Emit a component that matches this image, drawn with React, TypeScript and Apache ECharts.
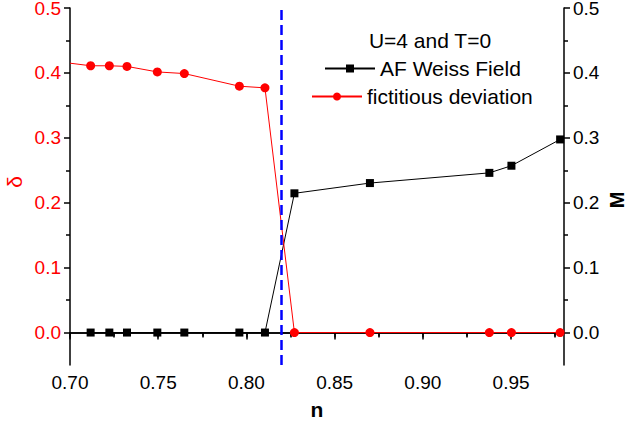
import React, { useEffect, useRef } from "react";
import * as echarts from "echarts";

// ---- data ----
const deltaN = [0.7, 0.7117, 0.7223, 0.7323, 0.7495, 0.7648, 0.796, 0.8105, 0.8272, 0.87, 0.9377, 0.9502, 0.9778];
const deltaValues = [0.415, 0.411, 0.411, 0.41, 0.4015, 0.399, 0.3795, 0.377, 0, 0, 0, 0, 0];
const weissN = [0.7117, 0.7223, 0.7323, 0.7495, 0.7648, 0.796, 0.8105, 0.8272, 0.87, 0.9377, 0.9502, 0.9778];
const weissValues = [0, 0, 0, 0, 0, 0, 0, 0.2145, 0.2303, 0.246, 0.257, 0.2975];
const transitionN = 0.821;

const nMajorTicks = [0.7, 0.75, 0.8, 0.85, 0.9, 0.95];
const nMinorTicks = [0.725, 0.775, 0.825, 0.875, 0.925, 0.975];
const nTopTicks = [0.7, 0.725, 0.75, 0.775, 0.8, 0.825, 0.85, 0.875, 0.9, 0.925, 0.95, 0.975];
const yMajorTicks = [0, 0.1, 0.2, 0.3, 0.4, 0.5];
const yMinorTicks = [0.05, 0.15, 0.25, 0.35, 0.45];

const seriesNames = ["AF Weiss Field", "fictitious deviation"];
const titleText = "U=4 and T=0";
const leftAxisName = "δ";
const rightAxisName = "M";

const FONT = "'Liberation Sans', Arial, sans-serif";

export default function App() {
  const ref = useRef<HTMLDivElement>(null);
  useEffect(() => {
    document.body.style.margin = "0";
    const chart = echarts.init(ref.current!, null, { renderer: "svg" });
    const axisLine = { show: true, lineStyle: { color: "#000", width: 1.5 } };
    const yBase = { type: "value", min: -0.05, max: 0.5, interval: 0.05, splitLine: { show: false } };
    const xBase = { type: "value", min: 0.7, max: 0.98, interval: 0.05, splitLine: { show: false } };
    const option: any = {
      animation: false,
      textStyle: { fontFamily: FONT },
      grid: { left: 70, right: 63, top: 8, bottom: 58, containLabel: false, outerBoundsMode: "none" },
      graphic: [
        {
          type: "text",
          x: 430,
          y: 40,
          style: { text: titleText, fontSize: 21, fontFamily: FONT, fill: "#000", textAlign: "center", textVerticalAlign: "middle" },
        },
        {
          type: "text",
          x: 14,
          y: 182,
          rotation: Math.PI / 2,
          style: { text: leftAxisName, fontSize: 21, fontFamily: FONT, fill: "#ff0000", textAlign: "center", textVerticalAlign: "middle" },
        },
        {
          type: "text",
          x: 617,
          y: 200,
          rotation: Math.PI / 2,
          style: {
            text: rightAxisName,
            fontSize: 20,
            lineHeight: 16,
            fontWeight: "bold",
            fontFamily: FONT,
            fill: "#000",
            textAlign: "center",
            textVerticalAlign: "middle",
          },
        },
      ],
      legend: [
        {
          data: [seriesNames[0]],
          left: 324,
          top: 58,
          padding: 0,
          itemWidth: 50,
          itemHeight: 10,
          textStyle: { fontSize: 21, color: "#000", fontFamily: FONT },
        },
        {
          data: [seriesNames[1]],
          left: 311,
          top: 86,
          padding: 0,
          itemWidth: 50,
          itemHeight: 10,
          textStyle: { fontSize: 21, color: "#000", fontFamily: FONT },
        },
      ],
      xAxis: [
        {
          ...xBase,
          position: "bottom",
          axisLine,
          axisTick: { show: true, customValues: nMajorTicks, length: 7, lineStyle: { color: "#000", width: 1.5 } },
          axisLabel: {
            customValues: nMajorTicks,
            formatter: (v: number) => v.toFixed(2),
            fontSize: 19,
            color: "#000",
            margin: 8,
            fontFamily: FONT,
          },
          name: "n",
          nameLocation: "middle",
          nameGap: 34,
          nameTextStyle: { fontSize: 21, fontWeight: "bold", color: "#000", fontFamily: FONT },
        },
        {
          ...xBase,
          position: "bottom",
          axisLine: { show: false },
          axisTick: { show: true, customValues: nMinorTicks, length: 4, lineStyle: { color: "#000", width: 1.5 } },
          axisLabel: { show: false },
        },
        {
          ...xBase,
          position: "top",
          axisLine,
          axisTick: { show: true, inside: true, customValues: nTopTicks, length: 5, lineStyle: { color: "#000", width: 1.5 } },
          axisLabel: { show: false },
        },
      ],
      yAxis: [
        {
          ...yBase,
          position: "left",
          axisLine,
          axisTick: { show: true, customValues: yMajorTicks, length: 6, lineStyle: { color: "#000", width: 1.5 } },
          axisLabel: {
            customValues: yMajorTicks,
            formatter: (v: number) => v.toFixed(1),
            fontSize: 19,
            lineHeight: 16,
            color: "#ff0000",
            margin: 9,
            fontFamily: FONT,
          },
        },
        {
          ...yBase,
          position: "left",
          axisLine: { show: false },
          axisTick: { show: true, customValues: yMinorTicks, length: 4, lineStyle: { color: "#000", width: 1.5 } },
          axisLabel: { show: false },
        },
        {
          ...yBase,
          position: "right",
          axisLine,
          axisTick: { show: true, customValues: yMajorTicks, length: 6, lineStyle: { color: "#000", width: 1.5 } },
          axisLabel: {
            customValues: yMajorTicks,
            formatter: (v: number) => v.toFixed(1),
            fontSize: 19,
            lineHeight: 16,
            color: "#000",
            margin: 9,
            fontFamily: FONT,
          },
        },
        {
          ...yBase,
          position: "right",
          axisLine: { show: false },
          axisTick: { show: true, customValues: yMinorTicks, length: 4, lineStyle: { color: "#000", width: 1.5 } },
          axisLabel: { show: false },
        },
      ],
      series: [
        {
          name: seriesNames[0],
          type: "line",
          xAxisIndex: 0,
          yAxisIndex: 2,
          data: weissN.map((n, i) => [n, weissValues[i]]),
          symbol: "rect",
          symbolSize: 8,
          itemStyle: { color: "#000" },
          lineStyle: { color: "#000", width: 1 },
          z: 3,
        },
        {
          name: seriesNames[1],
          type: "line",
          xAxisIndex: 0,
          yAxisIndex: 0,
          data: deltaN.map((n, i) =>
            i === 0 ? { value: [n, deltaValues[i]], symbol: "none" } : [n, deltaValues[i]]
          ),
          symbol: "circle",
          symbolSize: 9,
          itemStyle: { color: "#ff0000" },
          lineStyle: { color: "#ff0000", width: 1 },
          z: 4,
          markLine: {
            silent: true,
            symbol: "none",
            label: { show: false },
            lineStyle: { color: "#0000ff", type: [10, 5], width: 2.5 },
            data: [{ xAxis: transitionN }],
          },
        },
      ],
    };
    chart.setOption(option);
    return () => chart.dispose();
  }, []);
  return <div ref={ref} style={{ width: 627, height: 423 }} />;
}
